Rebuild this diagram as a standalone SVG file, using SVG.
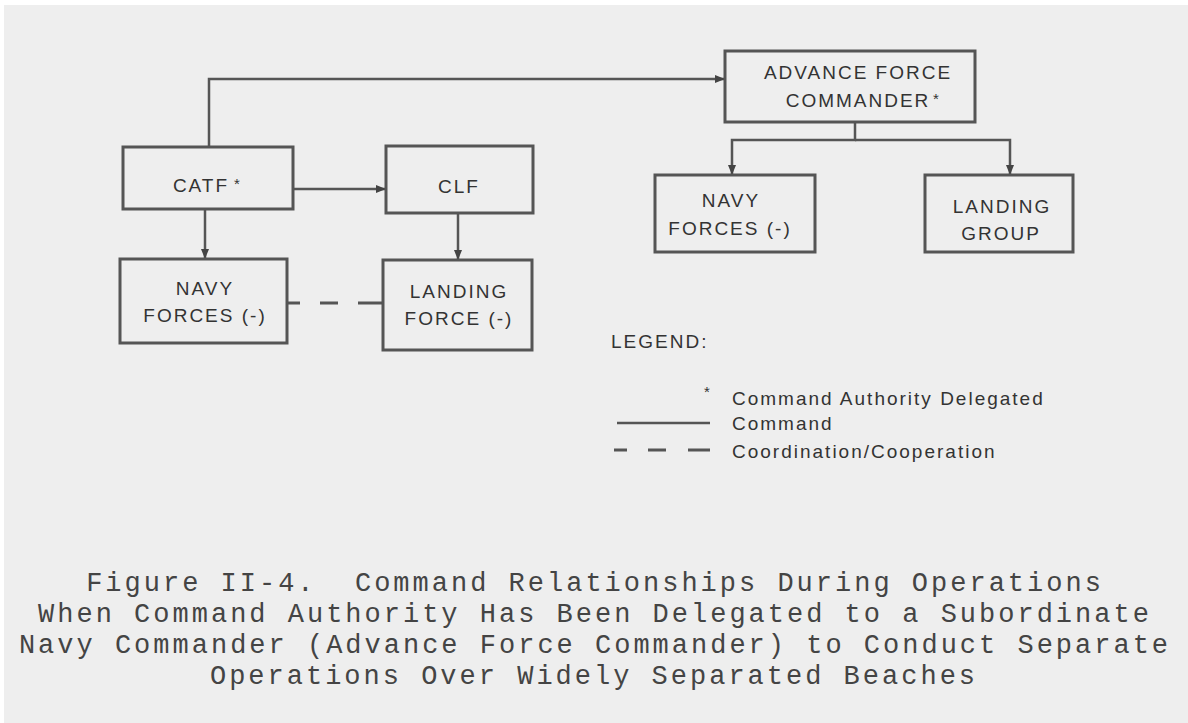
<svg xmlns="http://www.w3.org/2000/svg" width="1188" height="723" viewBox="0 0 1188 723">
<style>
.box{fill:none;stroke:#555;stroke-width:3}
.lbl{font-family:"Liberation Sans",Arial,sans-serif;font-size:19px;letter-spacing:2px;fill:#333;text-anchor:middle}
.ast{font-family:"Liberation Sans",Arial,sans-serif;font-size:15px;fill:#333}
.leg{font-family:"Liberation Sans",Arial,sans-serif;font-size:19px;letter-spacing:2px;fill:#333}
.cap{font-family:"Liberation Mono","Courier New",monospace;font-size:27px;letter-spacing:3px;fill:#444;text-anchor:middle}
.cmd{fill:none;stroke:#555;stroke-width:2.5}
.coord{fill:none;stroke:#555;stroke-width:3}
</style>
<defs>
<marker id="arr" viewBox="0 0 10 10" refX="10" refY="5" markerWidth="10" markerHeight="10" markerUnits="userSpaceOnUse" orient="auto">
<path d="M0,1 L10,5 L0,9 Z" fill="#444"/>
</marker>
</defs>
<rect x="0" y="0" width="1188" height="723" fill="#ffffff"/>
<rect x="4" y="5" width="1184" height="718" fill="#eeeeee"/>

<g id="connectors">
<path class="cmd" d="M209,147 V79 H725" marker-end="url(#arr)"/>
<path class="cmd" d="M293,189 H386" marker-end="url(#arr)"/>
<path class="cmd" d="M205,209 V259" marker-end="url(#arr)"/>
<path class="cmd" d="M458,213 V260" marker-end="url(#arr)"/>
<path class="cmd" d="M855,122 V140 H732 V175" marker-end="url(#arr)"/>
<path class="cmd" d="M855,140 H1010 V175" marker-end="url(#arr)"/>
<path class="coord" d="M288,303 H383" stroke-dasharray="12 20 18 20 25"/>
</g>

<g id="catf">
<rect class="box" x="123" y="147" width="170" height="62"/>
<text class="lbl" x="201" y="192">CATF</text>
<text class="ast" x="234" y="189">*</text>
</g>
<g id="clf">
<rect class="box" x="386" y="146" width="147" height="67"/>
<text class="lbl" x="459" y="193">CLF</text>
</g>
<g id="navy-left">
<rect class="box" x="120" y="259" width="167" height="84"/>
<text class="lbl" x="205" y="295">NAVY</text>
<text class="lbl" x="205" y="322">FORCES (-)</text>
</g>
<g id="landing-force">
<rect class="box" x="383" y="260" width="149" height="90"/>
<text class="lbl" x="459" y="298">LANDING</text>
<text class="lbl" x="459" y="325">FORCE (-)</text>
</g>
<g id="afc">
<rect class="box" x="725" y="51" width="250" height="71"/>
<text class="lbl" x="858" y="79">ADVANCE FORCE</text>
<text class="lbl" x="858" y="107">COMMANDER</text>
<text class="ast" x="933" y="104">*</text>
</g>
<g id="navy-right">
<rect class="box" x="655" y="175" width="160" height="77"/>
<text class="lbl" x="731" y="207">NAVY</text>
<text class="lbl" x="730" y="235">FORCES (-)</text>
</g>
<g id="landing-group">
<rect class="box" x="925" y="175" width="148" height="77"/>
<text class="lbl" x="1002" y="213">LANDING</text>
<text class="lbl" x="1001" y="240">GROUP</text>
</g>

<g id="legend">
<text class="leg" x="611" y="348">LEGEND:</text>
<text class="ast" x="704" y="397">*</text>
<text class="leg" x="732" y="405">Command Authority Delegated</text>
<path class="cmd" d="M617,423 H710" stroke-width="2"/>
<text class="leg" x="732" y="430">Command</text>
<path class="coord" d="M614,450 H710" stroke-dasharray="13 21 18 22 22"/>
<text class="leg" x="732" y="458">Coordination/Cooperation</text>
</g>

<g id="caption">
<text class="cap" x="595" y="591" xml:space="preserve">Figure II-4.  Command Relationships During Operations</text>
<text class="cap" x="595" y="622">When Command Authority Has Been Delegated to a Subordinate</text>
<text class="cap" x="595" y="653">Navy Commander (Advance Force Commander) to Conduct Separate</text>
<text class="cap" x="594" y="684">Operations Over Widely Separated Beaches</text>
</g>
</svg>
